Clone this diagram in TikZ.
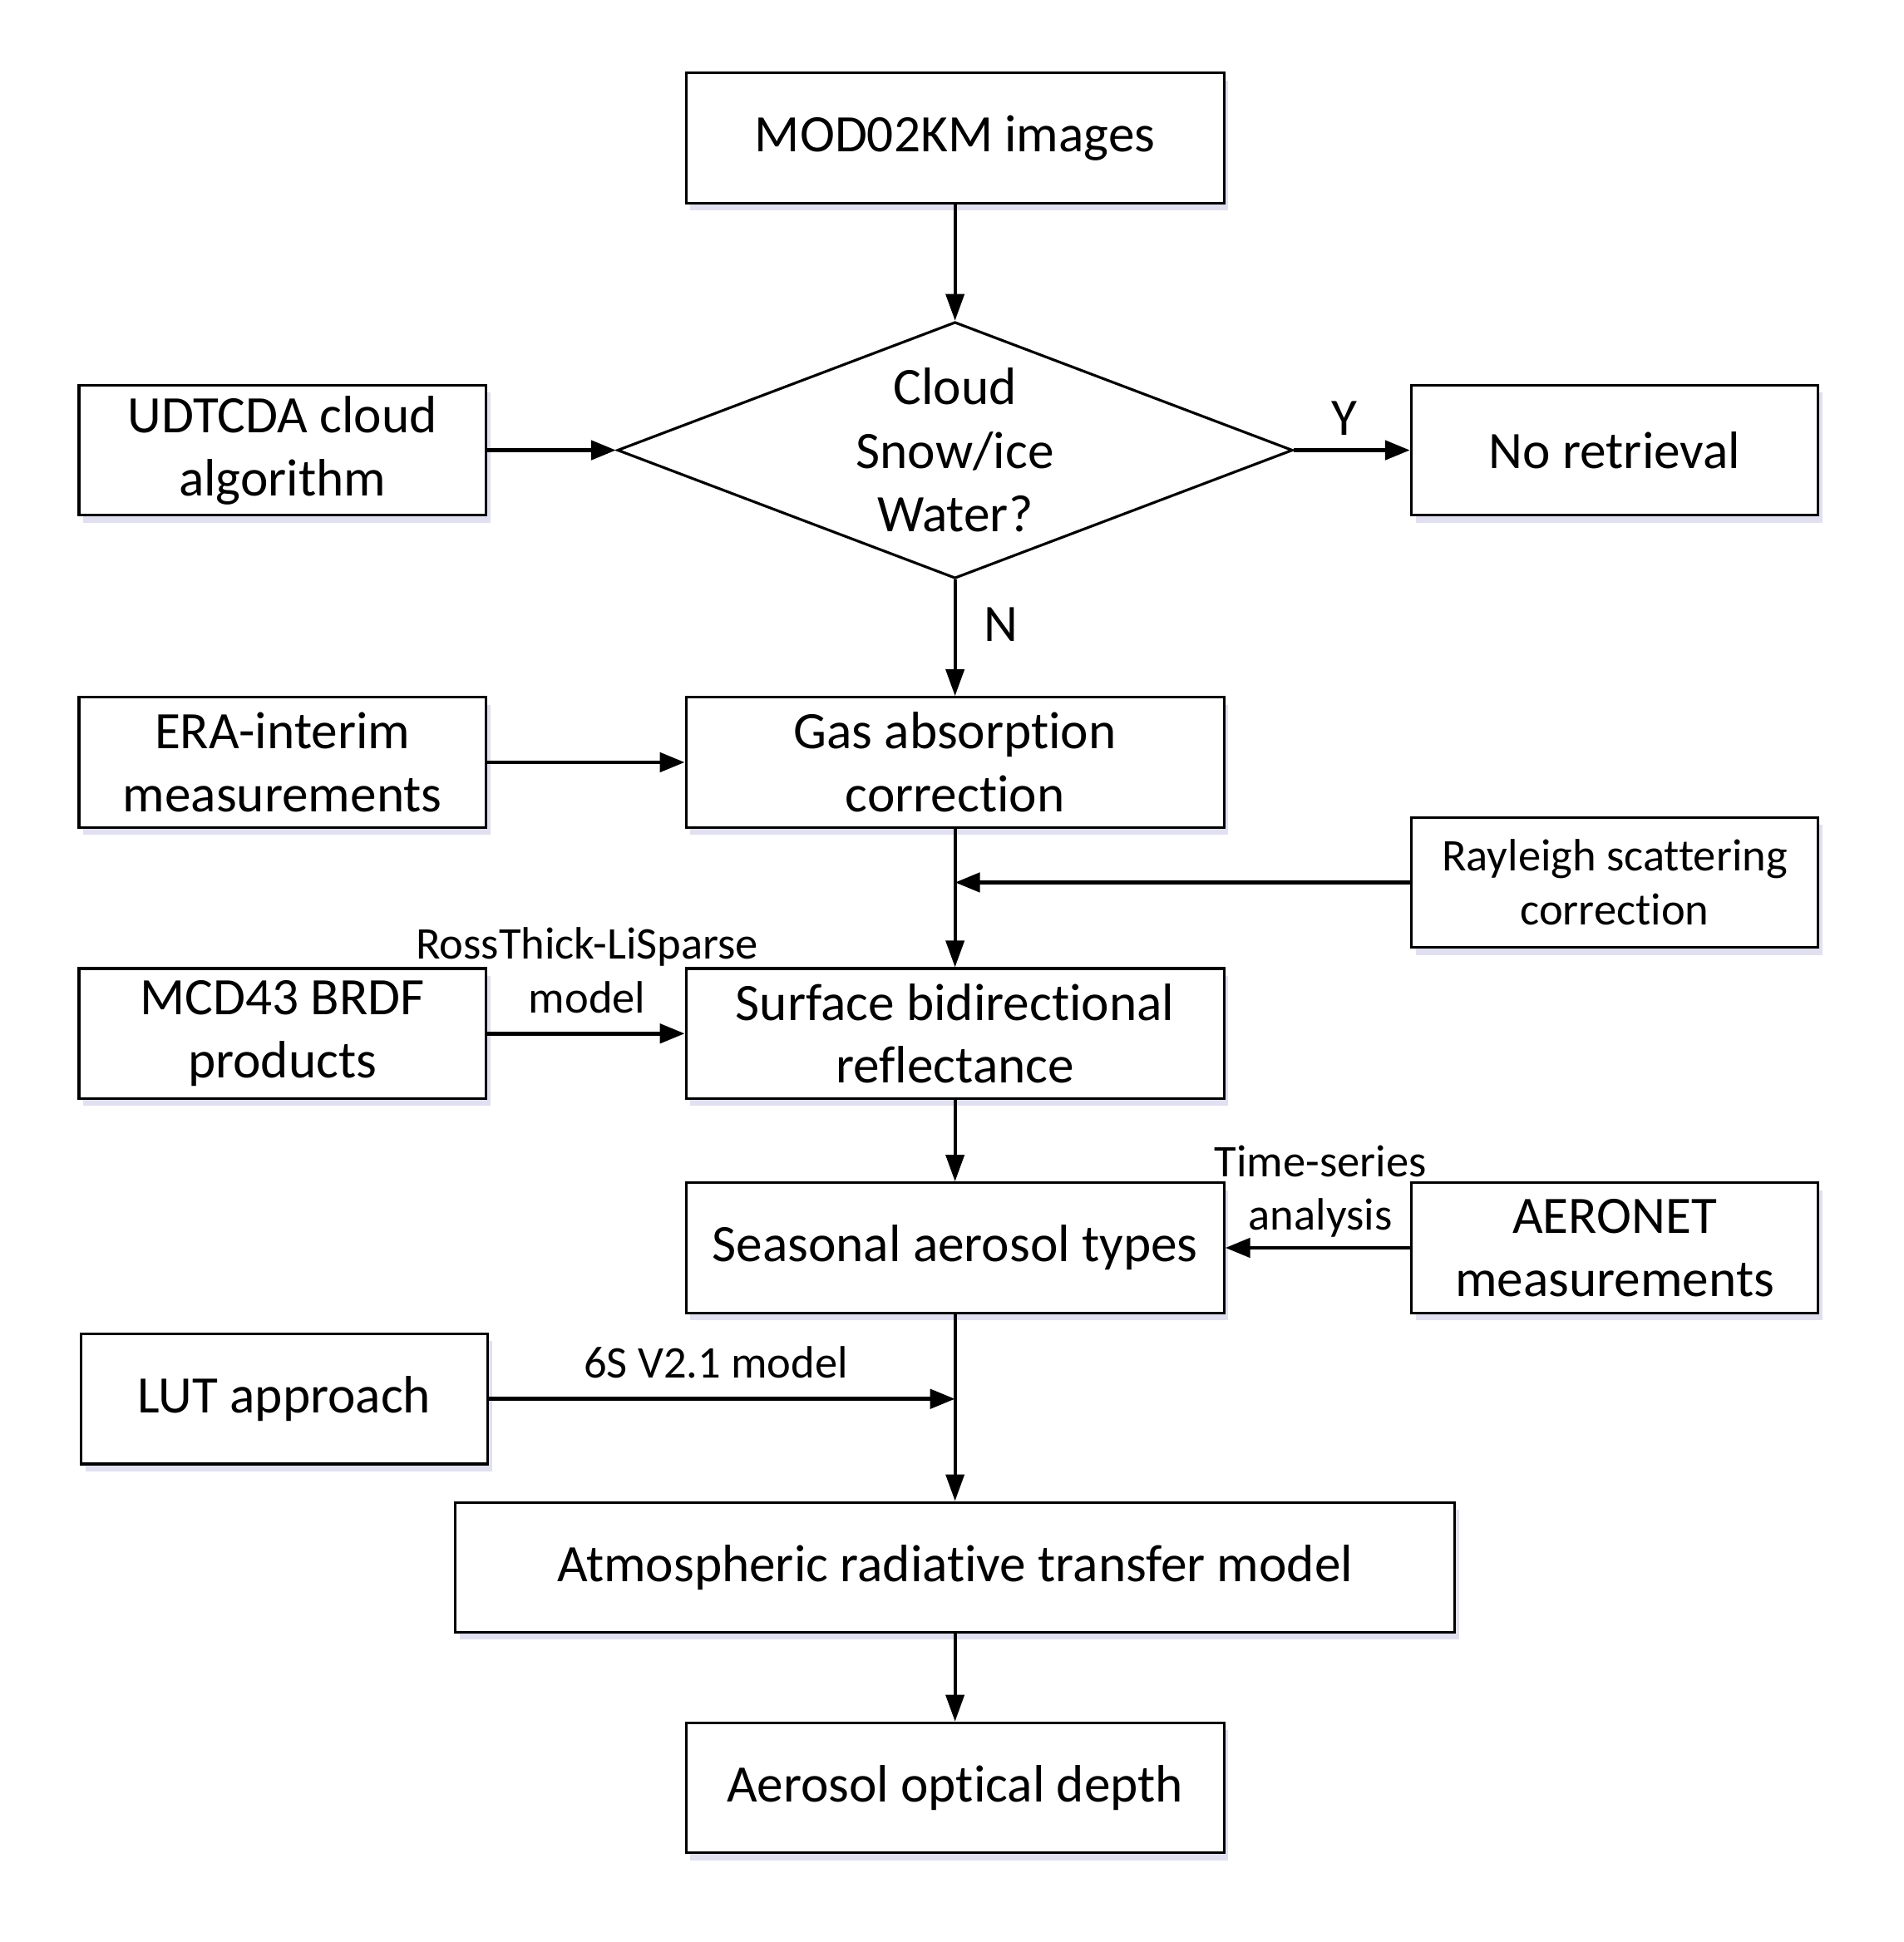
\documentclass[tikz,border=0pt]{standalone}
\usepackage{fontspec}
\setmainfont{Carlito}[Ligatures={NoCommon,NoContextual},RawFeature={-liga;-clig;-calt;-dlig}]
\usetikzlibrary{arrows.meta,shapes.geometric,shadows}
\begin{document}
\begin{tikzpicture}[x=0.0149cm,y=-0.0149cm,
  box/.style={draw=black,line width=0.9pt,fill=white,align=center,inner sep=0pt,
    minimum height=1.5645cm,font=\fontsize{18}{21.6}\selectfont,
    drop shadow={opacity=0.18,fill=blue!35!gray,shadow xshift=1.5pt,shadow yshift=-2.5pt}},
  mainbox/.style={box,minimum width=6.467cm},
  sidebox/.style={box,minimum width=4.89cm},
  dec/.style={draw=black,line width=0.9pt,fill=white,shape=diamond,aspect=2.63,inner sep=0pt,
    minimum width=8.12cm,minimum height=3.084cm,align=center,font=\fontsize{18}{21.8}\selectfont},
  lbl/.style={align=center,inner sep=1pt,font=\fontsize{15.5}{18.3}\selectfont},
  harr/.style={-{Triangle[length=3mm,width=2.3mm]},line width=1.4pt},
  varr/.style={-{Triangle[length=3.2mm,width=2.2mm]},line width=1.1pt}]
\useasboundingbox (0,0) rectangle (1537,1568);

\node[mainbox] (mod) at (771,111.5) {MOD02KM images};
\node[dec] (dia) at (771,363.5) {Cloud\\Snow/ice\\Water?};
\node[sidebox] (udt) at (228,363.5) {UDTCDA cloud\\algorithm};
\node[sidebox] (nr) at (1303.5,363.5) {No retrieval};
\node[mainbox] (gas) at (771,615.5) {Gas absorption\\correction};
\node[sidebox] (era) at (228,615.5) {ERA-interim\\measurements};
\node[sidebox,font=\fontsize{15.5}{18.6}\selectfont] (ray) at (1303.5,712.5) {Rayleigh scattering\\correction};
\node[mainbox] (surf) at (771,834.5) {Surface bidirectional\\reflectance};
\node[sidebox] (mcd) at (228,834.5) {MCD43 BRDF\\products};
\node[mainbox] (sea) at (771,1007.5) {Seasonal aerosol types};
\node[sidebox] (aer) at (1303.5,1007.5) {AERONET\\measurements};
\node[sidebox] (lut) at (229.5,1129.5) {LUT approach};
\node[box,minimum width=12.01cm] (atm) at (771,1265.5) {Atmospheric radiative transfer model};
\node[mainbox] (aod) at (771,1443.5) {Aerosol optical depth};

\coordinate (jr) at (771,712.5);
\coordinate (jl) at (771,1129.5);

\draw[varr] (mod.south) -- (dia.north);
\draw[harr] (udt.east) -- (dia.west);
\draw[harr] (dia.east) -- (nr.west);
\node[lbl,font=\fontsize{18}{21.6}\selectfont] (ylab) at (1085,338) {Y};
\draw[varr] (dia.south) -- (gas.north);
\node[lbl,font=\fontsize{18}{21.6}\selectfont] (nlab) at (808,504) {N};
\draw[harr] (era.east) -- (gas.west);
\draw[varr] (gas.south) -- (surf.north);
\draw[harr] (ray.west) -- (jr);
\draw[harr] (mcd.east) -- (surf.west);
\node[lbl] (rlab) at (474,783.5) {RossThick-LiSparse\\model};
\draw[varr] (surf.south) -- (sea.north);
\draw[harr] (aer.west) -- (sea.east);
\node[lbl] (tlab) at (1066,962) {Time-series\\analysis};
\draw[varr] (sea.south) -- (atm.north);
\draw[harr] (lut.east) -- (jl);
\node[lbl] (slab) at (578,1100) {6S V2.1 model};
\draw[varr] (atm.south) -- (aod.north);
\end{tikzpicture}
\end{document}
